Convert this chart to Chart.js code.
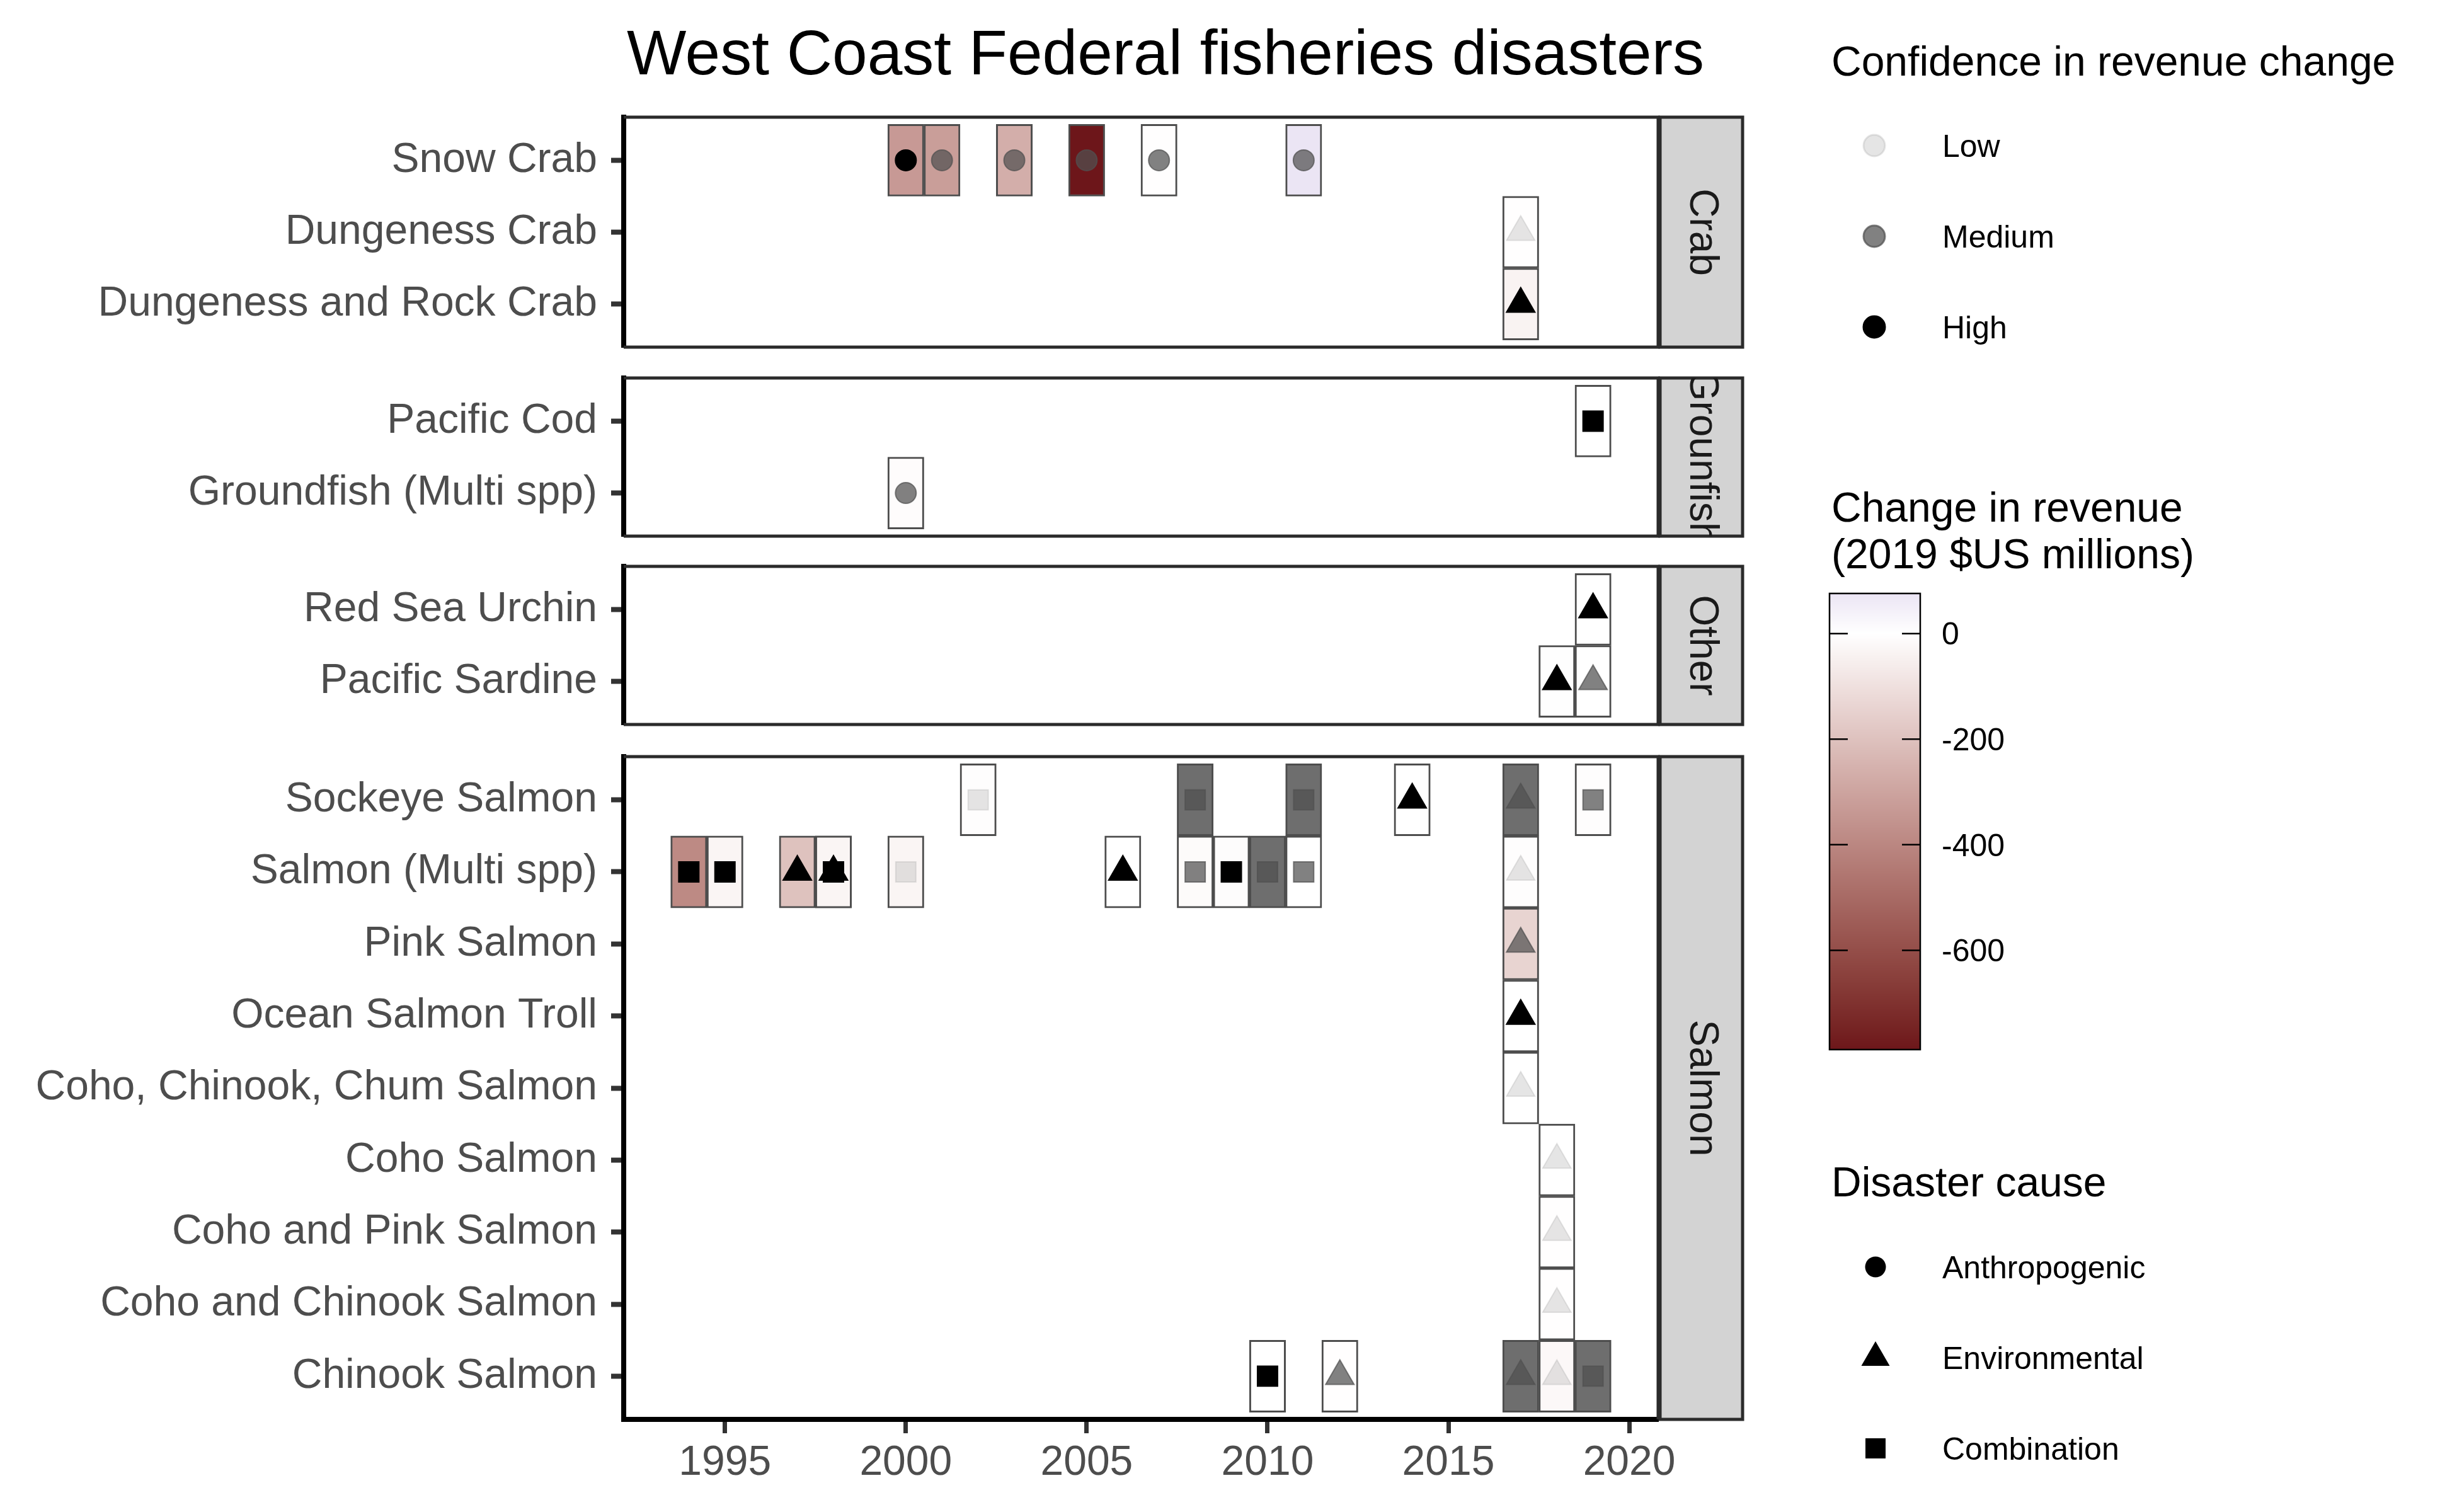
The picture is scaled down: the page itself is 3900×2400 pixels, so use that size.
<!DOCTYPE html>
<html>
<head>
<meta charset="utf-8">
<script src="https://cdn.jsdelivr.net/npm/chart.js@4.4.0/dist/chart.umd.min.js"></script>
<style>
  html, body { margin: 0; padding: 0; background: #fff; }
  body { width: 3900px; height: 2400px; position: relative; overflow: hidden;
         font-family: "Liberation Sans", Arial, Helvetica, sans-serif; }
  .abs { position: absolute; white-space: nowrap; }
  canvas { position: absolute; left: 0; }
</style>
</head>
<body>
<canvas id="crab"></canvas>
<canvas id="groundfish"></canvas>
<canvas id="other"></canvas>
<canvas id="salmon"></canvas>
<canvas id="legend"></canvas>

<script>
// ---- data ----
const panelNames = ['Crab', 'Grounfish', 'Other', 'Salmon'];
const crabRows = ['Snow Crab', 'Dungeness Crab', 'Dungeness and Rock Crab'];
const groundfishRows = ['Pacific Cod', 'Groundfish (Multi spp)'];
const otherRows = ['Red Sea Urchin', 'Pacific Sardine'];
const salmonRows = ['Sockeye Salmon', 'Salmon (Multi spp)', 'Pink Salmon', 'Ocean Salmon Troll',
  'Coho, Chinook, Chum Salmon', 'Coho Salmon', 'Coho and Pink Salmon', 'Coho and Chinook Salmon', 'Chinook Salmon'];

const disasterFishery = [
  'Snow Crab', 'Snow Crab', 'Snow Crab', 'Snow Crab', 'Snow Crab', 'Snow Crab',
  'Dungeness Crab', 'Dungeness and Rock Crab',
  'Pacific Cod', 'Groundfish (Multi spp)',
  'Red Sea Urchin', 'Pacific Sardine', 'Pacific Sardine',
  'Sockeye Salmon', 'Sockeye Salmon', 'Sockeye Salmon', 'Sockeye Salmon', 'Sockeye Salmon', 'Sockeye Salmon',
  'Salmon (Multi spp)', 'Salmon (Multi spp)', 'Salmon (Multi spp)', 'Salmon (Multi spp)', 'Salmon (Multi spp)',
  'Salmon (Multi spp)', 'Salmon (Multi spp)', 'Salmon (Multi spp)', 'Salmon (Multi spp)', 'Salmon (Multi spp)',
  'Salmon (Multi spp)', 'Salmon (Multi spp)',
  'Pink Salmon', 'Ocean Salmon Troll', 'Coho, Chinook, Chum Salmon',
  'Coho Salmon', 'Coho and Pink Salmon', 'Coho and Chinook Salmon',
  'Chinook Salmon', 'Chinook Salmon', 'Chinook Salmon', 'Chinook Salmon', 'Chinook Salmon'
];
const disasterYear = [
  2000, 2001, 2003, 2005, 2007, 2011,
  2017, 2017,
  2019, 2000,
  2019, 2018, 2019,
  2002, 2008, 2011, 2014, 2017, 2019,
  1994, 1995, 1997, 1998, 1998,
  2000, 2006, 2008, 2009, 2010,
  2011, 2017,
  2017, 2017, 2017,
  2018, 2018, 2018,
  2010, 2012, 2017, 2018, 2019
];
// 2019 $US millions, null = not estimated
const revenueChange = [
  -335, -320, -265, -788, -2, 76,
  -2, -40,
  -1, -8,
  -1, -4, -1,
  -6, null, null, -1, null, -6,
  -390, -32, -200, -32, -32,
  -32, -1, -14, -10, null,
  -1, -5,
  -140, -1, -1,
  -1, -2, -2,
  -1, -2, null, -22, null
];
const confidence = [
  'High', 'Medium', 'Medium', 'Medium', 'Medium', 'Medium',
  'Low', 'High',
  'High', 'Medium',
  'High', 'High', 'Medium',
  'Low', 'Medium', 'Medium', 'High', 'Medium', 'Medium',
  'High', 'High', 'High', 'High', 'High',
  'Low', 'High', 'Medium', 'High', 'Medium',
  'Medium', 'Low',
  'Medium', 'High', 'Low',
  'Low', 'Low', 'Low',
  'High', 'Medium', 'Medium', 'Low', 'Medium'
];
const cause = [
  'Anthropogenic', 'Anthropogenic', 'Anthropogenic', 'Anthropogenic', 'Anthropogenic', 'Anthropogenic',
  'Environmental', 'Environmental',
  'Combination', 'Anthropogenic',
  'Environmental', 'Environmental', 'Environmental',
  'Combination', 'Combination', 'Combination', 'Environmental', 'Environmental', 'Combination',
  'Combination', 'Combination', 'Environmental', 'Environmental', 'Combination',
  'Combination', 'Environmental', 'Combination', 'Combination', 'Combination',
  'Combination', 'Environmental',
  'Environmental', 'Environmental', 'Environmental',
  'Environmental', 'Environmental', 'Environmental',
  'Combination', 'Environmental', 'Environmental', 'Environmental', 'Combination'
];

const yearTicks = [1995, 2000, 2005, 2010, 2015, 2020];
const colorbarTicks = [0, -200, -400, -600];
const confidenceLevels = ['Low', 'Medium', 'High'];
const causeLevels = ['Anthropogenic', 'Environmental', 'Combination'];

// ---- styles ----
const FONT = '"Liberation Sans", Arial, Helvetica, sans-serif';
Chart.defaults.font.family = FONT;

const LOW_COLOR = [109, 22, 26];   // most negative
const HIGH_COLOR = [0, 0, 139];    // positive side
const NA_COLOR = '#6e6e6e';
const CONF_COLOR = { Low: 'rgba(171,171,171,0.31)', Medium: 'rgba(80,80,80,0.72)', High: '#000000' };
const SHAPE = { Anthropogenic: 'circle', Environmental: 'triangle', Combination: 'rect' };
const RADIUS = { Anthropogenic: 16.5, Environmental: 26, Combination: 22.6 };

const known = revenueChange.filter(v => v !== null);
const revMin = Math.min(...known);
const revMax = Math.max(...known);
const revLimit = Math.max(Math.abs(revMin), Math.abs(revMax));

// colour interpolation in Lab, white at 0 (like a diverging gradient)
function toLin(c) { c /= 255; return c <= 0.04045 ? c / 12.92 : Math.pow((c + 0.055) / 1.055, 2.4); }
function toSrgb(c) {
  c = c <= 0.0031308 ? 12.92 * c : 1.055 * Math.pow(c, 1 / 2.4) - 0.055;
  return Math.round(Math.max(0, Math.min(1, c)) * 255);
}
function rgbToLab(rgb) {
  const r = toLin(rgb[0]), g = toLin(rgb[1]), b = toLin(rgb[2]);
  const X = (0.4124 * r + 0.3576 * g + 0.1805 * b) / 0.95047;
  const Y = 0.2126 * r + 0.7152 * g + 0.0722 * b;
  const Z = (0.0193 * r + 0.1192 * g + 0.9505 * b) / 1.08883;
  const f = t => t > 0.008856 ? Math.cbrt(t) : 7.787 * t + 16 / 116;
  const fx = f(X), fy = f(Y), fz = f(Z);
  return [116 * fy - 16, 500 * (fx - fy), 200 * (fy - fz)];
}
function labToRgb(lab) {
  const fy = (lab[0] + 16) / 116, fx = fy + lab[1] / 500, fz = fy - lab[2] / 200;
  const inv = t => t * t * t > 0.008856 ? t * t * t : (t - 16 / 116) / 7.787;
  const X = inv(fx) * 0.95047, Y = inv(fy), Z = inv(fz) * 1.08883;
  return [
    toSrgb(3.2406 * X - 1.5372 * Y - 0.4986 * Z),
    toSrgb(-0.9689 * X + 1.8758 * Y + 0.0415 * Z),
    toSrgb(0.0557 * X - 0.2040 * Y + 1.0570 * Z)
  ];
}
const WHITE_LAB = rgbToLab([255, 255, 255]);
const LOW_LAB = rgbToLab(LOW_COLOR);
const HIGH_LAB = rgbToLab(HIGH_COLOR);

function revenueFill(v) {
  if (v === null || v === undefined) return NA_COLOR;
  const t = Math.min(1, Math.abs(v) / revLimit);
  const end = v < 0 ? LOW_LAB : HIGH_LAB;
  const lab = [0, 1, 2].map(k => WHITE_LAB[k] + (end[k] - WHITE_LAB[k]) * t);
  const c = labToRgb(lab);
  return 'rgb(' + c[0] + ',' + c[1] + ',' + c[2] + ')';
}

// x range: tiles are one year wide, plus 5% expansion
const tileMin = Math.min(...disasterYear) - 0.5;
const tileMax = Math.max(...disasterYear) + 0.5;
const xPad = (tileMax - tileMin) * 0.05;

// ---- layout (pixels) ----
const panels = [
  { id: 'crab', name: panelNames[0], rows: crabRows, top: 186, bottom: 551 },
  { id: 'groundfish', name: panelNames[1], rows: groundfishRows, top: 600, bottom: 851 },
  { id: 'other', name: panelNames[2], rows: otherRows, top: 899, bottom: 1150 },
  { id: 'salmon', name: panelNames[3], rows: salmonRows, top: 1201, bottom: 2253 }
];
const PANEL_LEFT = 990, PANEL_RIGHT = 2632, CANVAS_W = 2800, STRIP_W = 131;

function panelFrame(label, isBottom) {
  return {
    id: 'panelFrame',
    afterDraw(chart) {
      const ctx = chart.ctx, a = chart.chartArea;
      ctx.save();
      ctx.strokeStyle = '#2b2b2b';
      ctx.lineWidth = 5;
      ctx.beginPath();
      ctx.moveTo(a.left, a.top);
      ctx.lineTo(a.right, a.top);
      ctx.lineTo(a.right, a.bottom);
      if (!isBottom) ctx.lineTo(a.left, a.bottom);
      ctx.stroke();

      // facet strip
      const sx = a.right + 3, sh = a.bottom - a.top;
      ctx.fillStyle = '#d3d3d3';
      ctx.fillRect(sx, a.top, STRIP_W, sh);
      ctx.strokeRect(sx, a.top, STRIP_W, sh);
      ctx.beginPath();
      ctx.rect(sx, a.top, STRIP_W, sh);
      ctx.clip();
      ctx.translate(sx + STRIP_W / 2, a.top + sh / 2);
      ctx.rotate(Math.PI / 2);
      ctx.fillStyle = '#1a1a1a';
      ctx.font = '64px ' + FONT;
      ctx.textAlign = 'center';
      ctx.textBaseline = 'middle';
      ctx.fillText(label, 0, 0);
      ctx.restore();
    }
  };
}

function makePanel(p, isBottom) {
  const canvas = document.getElementById(p.id);
  const padTop = 40, padBottom = isBottom ? 0 : 40, axisH = isBottom ? 130 : 0;
  canvas.width = CANVAS_W;
  canvas.height = padTop + (p.bottom - p.top) + padBottom + axisH;
  canvas.style.top = (p.top - padTop) + 'px';

  const tiles = [], points = [];
  disasterFishery.forEach((f, i) => {
    const row = p.rows.indexOf(f);
    if (row < 0) return;
    tiles.push({ x: [disasterYear[i] - 0.5, disasterYear[i] + 0.5], y: row, v: revenueChange[i] });
    points.push({ x: disasterYear[i], y: row, conf: confidence[i], cause: cause[i] });
  });

  new Chart(canvas, {
    type: 'scatter',
    data: {
      datasets: [
        {
          type: 'scatter',
          data: points,
          order: 0,
          pointStyle: c => c.raw ? SHAPE[c.raw.cause] : 'circle',
          pointRadius: c => c.raw ? RADIUS[c.raw.cause] : 16,
          pointBackgroundColor: c => c.raw ? CONF_COLOR[c.raw.conf] : '#000',
          pointBorderColor: c => c.raw ? CONF_COLOR[c.raw.conf] : '#000',
          pointBorderWidth: 2
        },
        {
          type: 'bar',
          indexAxis: 'y',
          data: tiles,
          order: 1,
          backgroundColor: c => c.raw ? revenueFill(c.raw.v) : '#fff',
          borderColor: '#4d4d4d',
          borderWidth: 3,
          borderSkipped: false,
          barPercentage: 1,
          categoryPercentage: 1
        }
      ]
    },
    options: {
      responsive: false,
      animation: false,
      devicePixelRatio: 1,
      events: [],
      layout: { padding: { left: 0, right: CANVAS_W - PANEL_RIGHT, top: padTop, bottom: padBottom } },
      plugins: { legend: { display: false }, tooltip: { enabled: false } },
      scales: {
        x: {
          type: 'linear',
          display: isBottom,
          offset: false,
          min: tileMin - xPad,
          max: tileMax + xPad,
          afterBuildTicks: s => { s.ticks = yearTicks.map(v => ({ value: v })); },
          afterFit: s => { s.height = axisH; s.paddingLeft = 0; s.paddingRight = 0; },
          grid: { drawOnChartArea: false, drawTicks: true, offset: false, tickLength: 22, tickWidth: 7, tickColor: '#333333' },
          border: { display: true, color: '#000000', width: 8 },
          ticks: { font: { size: 66 }, color: '#4d4d4d', padding: 8, maxRotation: 0, autoSkip: false,
                   callback: v => String(v) }
        },
        y: {
          type: 'linear',
          reverse: true,
          offset: false,
          min: -0.6,
          max: p.rows.length - 1 + 0.6,
          afterBuildTicks: s => { s.ticks = p.rows.map((r, i) => ({ value: i })); },
          afterFit: s => { s.width = PANEL_LEFT; s.paddingTop = 0; s.paddingBottom = 0; },
          grid: { drawOnChartArea: false, drawTicks: true, offset: false, tickLength: 20, tickWidth: 8, tickColor: '#333333' },
          border: { display: true, color: '#000000', width: 8 },
          ticks: { font: { size: 66 }, color: '#4d4d4d', padding: 22, autoSkip: false,
                   callback: v => p.rows[v] }
        }
      }
    },
    plugins: [panelFrame(p.name, isBottom)]
  });
}

panels.forEach((p, i) => makePanel(p, i === panels.length - 1));

// ---- text ----
function addText(txt, x, baseline, size, opts) {
  opts = opts || {};
  const d = document.createElement('div');
  d.className = 'abs';
  d.textContent = txt;
  d.style.fontSize = size + 'px';
  d.style.lineHeight = size + 'px';
  d.style.top = (baseline - 0.8465 * size) + 'px';
  d.style.left = x + 'px';
  d.style.color = opts.color || '#000';
  if (opts.center) d.style.transform = 'translateX(-50%)';
  document.body.appendChild(d);
}

addText('West Coast Federal fisheries disasters', 1850, 118, 100, { center: true });

// ---- legends ----
const LEG_X = 2880;
const lg = document.getElementById('legend');
lg.width = 1020; lg.height = 2400;
lg.style.left = LEG_X + 'px'; lg.style.top = '0px';
const lc = lg.getContext('2d');

function drawShape(ctx, style, x, y, r, color, bw) {
  ctx.save();
  ctx.fillStyle = color;
  ctx.strokeStyle = color;
  ctx.lineWidth = bw;
  ctx.beginPath();
  if (style === 'circle') {
    ctx.arc(x, y, r, 0, Math.PI * 2);
  } else if (style === 'triangle') {
    ctx.moveTo(x, y - r);
    ctx.lineTo(x + Math.sin(2 * Math.PI / 3) * r, y + 0.5 * r);
    ctx.lineTo(x - Math.sin(2 * Math.PI / 3) * r, y + 0.5 * r);
    ctx.closePath();
  } else {
    const s = Math.SQRT1_2 * r;
    ctx.rect(x - s, y - s, 2 * s, 2 * s);
  }
  ctx.fill();
  if (bw > 0) ctx.stroke();
  ctx.restore();
}

// confidence
addText('Confidence in revenue change', 2907, 120, 66);
confidenceLevels.forEach((lvl, i) => {
  const cy = 231 + i * 144;
  drawShape(lc, 'circle', 2975 - LEG_X, cy, 17, CONF_COLOR[lvl], 3);
  addText(lvl, 3083, cy + 18, 50);
});

// colour bar
addText('Change in revenue', 2907, 828, 66);
addText('(2019 $US millions)', 2907, 902, 66);
const cbX = 2904 - LEG_X, cbY = 942, cbW = 144, cbH = 724;
for (let i = 0; i < cbH; i++) {
  const v = revMax - (i + 0.5) / cbH * (revMax - revMin);
  lc.fillStyle = revenueFill(v);
  lc.fillRect(cbX, cbY + i, cbW, 1);
}
lc.strokeStyle = '#000';
lc.lineWidth = 2.5;
colorbarTicks.forEach(v => {
  const ty = cbY + (revMax - v) / (revMax - revMin) * cbH;
  lc.beginPath();
  lc.moveTo(cbX, ty); lc.lineTo(cbX + 29, ty);
  lc.moveTo(cbX + cbW - 29, ty); lc.lineTo(cbX + cbW, ty);
  lc.stroke();
  addText(String(v), 3082, ty + 18, 50);
});
lc.strokeRect(cbX, cbY, cbW, cbH);

// cause
addText('Disaster cause', 2907, 1899, 66);
causeLevels.forEach((c, i) => {
  const cy = 2011 + i * 144;
  drawShape(lc, SHAPE[c], 2977 - LEG_X, cy, RADIUS[c], '#000', 0);
  addText(c, 3083, cy + 18, 50);
});
</script>
</body>
</html>
